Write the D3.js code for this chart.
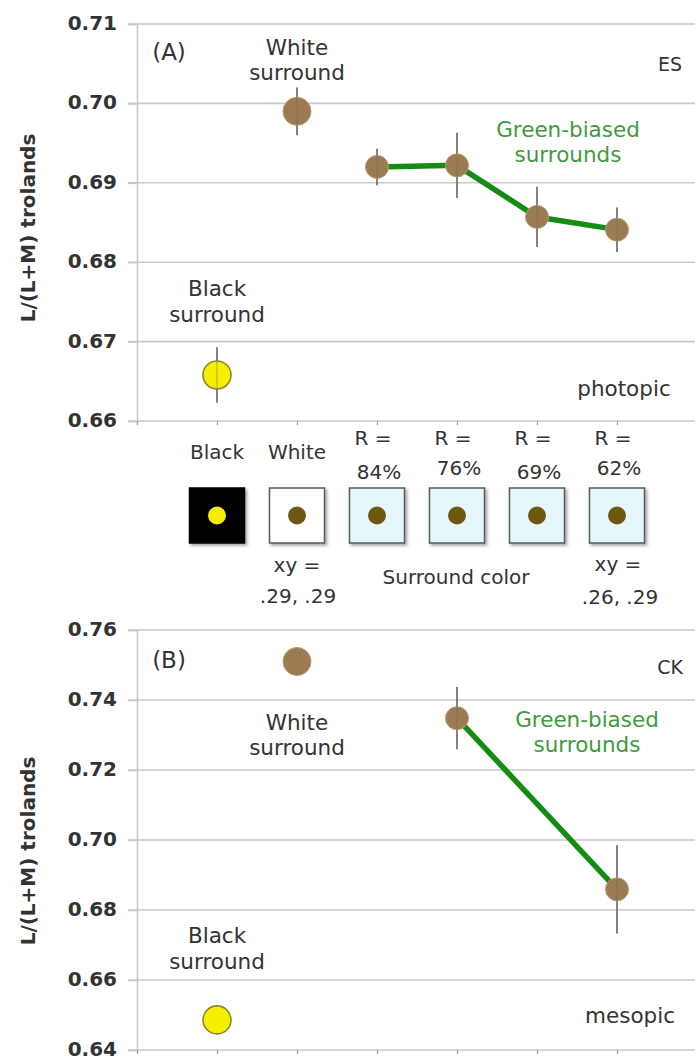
<!DOCTYPE html>
<html>
<head>
<meta charset="utf-8">
<script src="https://cdn.jsdelivr.net/npm/d3@7"></script>
<style>
  html, body { margin: 0; padding: 0; background: #fff; }
  svg { display: block; }
  text { font-family: "DejaVu Sans", "Open Sans", sans-serif; }
</style>
</head>
<body>
<svg id="chart" width="695" height="1061"></svg>
<script>
// Surround conditions along the x axis (positions 1..6)
const categories = ["Black", "White", "R = 84%", "R = 76%", "R = 69%", "R = 62%"];
const catPos = [1, 2, 3, 4, 5, 6];

// Panel A (observer ES, photopic): mean L/(L+M) and error half-widths
const esMean = [0.6658, 0.6990, 0.6920, 0.6922, 0.6857, 0.6841];
const esErr  = [0.0035, 0.0030, 0.0023, 0.0041, 0.0038, 0.0028];

// Panel B (observer CK, mesopic): only 76% and 62% green-biased surrounds measured
const ckMean = [0.6486, 0.7510, null, 0.7348, null, 0.6859];
const ckErr  = [0, 0, null, 0.0089, null, 0.0126];

// Y tick values
const esTicks = [0.66, 0.67, 0.68, 0.69, 0.70, 0.71];
const ckTicks = [0.64, 0.66, 0.68, 0.70, 0.72, 0.74, 0.76];

// Swatch key text
const swatchTop = ["Black", "White", "R =", "R =", "R =", "R ="];
const swatchPct = ["", "", "84%", "76%", "69%", "62%"];

const svg = d3.select("#chart");

const x = d3.scaleLinear().domain([0, 7]).range([137, 697]);
const gridLeft = 128, gridRight = 695;

const COL_GRID = "#c9c9c9";
const COL_BROWN = "#9c7b52";
const COL_GREEN = "#148c14";
const COL_GREEN_TXT = "#3f9a3f";
const COL_ERR = "#6e6e6e";
const COL_TXT = "#333";
const FS = 21.5;       // annotation font size
const LINE = 25;       // annotation line spacing

// shadow for swatch squares
const defs = svg.append("defs");
const f = defs.append("filter").attr("id", "shadow").attr("x", "-20%").attr("y", "-20%").attr("width", "150%").attr("height", "150%");
f.append("feDropShadow").attr("dx", 2).attr("dy", 2).attr("stdDeviation", 1.5).attr("flood-color", "#000").attr("flood-opacity", 0.35);

function drawPanel(opts) {
  const { top, bottom, ticks, mean, err, tag, subject, cond, labels } = opts;
  const y = d3.scaleLinear().domain([d3.min(ticks), d3.max(ticks)]).range([bottom, top]);
  const g = svg.append("g");

  // horizontal gridlines
  g.append("g").selectAll("line").data(ticks).join("line")
    .attr("x1", gridLeft).attr("x2", gridRight)
    .attr("y1", d => y(d)).attr("y2", d => y(d))
    .attr("stroke", COL_GRID).attr("stroke-width", 1.6);

  // y axis with bold labels
  const yAxis = d3.axisLeft(y).tickValues(ticks).tickFormat(d3.format(".2f"))
    .tickSize(9).tickPadding(11);
  const ya = g.append("g").attr("transform", `translate(${x(0)},0)`).call(yAxis);
  ya.select(".domain").attr("stroke", COL_GRID).attr("stroke-width", 1.6);
  ya.selectAll(".tick line").attr("stroke", COL_GRID).attr("stroke-width", 1.6);
  ya.selectAll(".tick text")
    .attr("font-family", "'DejaVu Sans', sans-serif")
    .attr("font-size", 20).attr("font-weight", 700).attr("fill", COL_TXT)
    .attr("dy", "0.27em");

  // x axis tick marks (no labels)
  const xAxis = d3.axisBottom(x).tickValues([0].concat(catPos)).tickSize(4).tickFormat("");
  const xa = g.append("g").attr("transform", `translate(0,${bottom})`).call(xAxis);
  xa.select(".domain").remove();
  xa.selectAll(".tick line").attr("stroke", "#999").attr("stroke-width", 1.2);

  // y axis title
  g.append("text")
    .attr("transform", `translate(28,${labels.titleY}) rotate(-90)`)
    .attr("text-anchor", "middle").attr("dominant-baseline", "central")
    .attr("font-size", 20).attr("font-weight", 700).attr("fill", COL_TXT)
    .text("L/(L+M) trolands");

  const pts = catPos.map((c, i) => ({ c, i, v: mean[i], e: err[i] })).filter(d => d.v != null);
  const green = pts.filter(d => d.i >= 2);

  // connecting line for the green-biased surrounds
  g.append("path").datum(green)
    .attr("fill", "none").attr("stroke", COL_GREEN).attr("stroke-width", 5.5)
    .attr("stroke-linejoin", "round")
    .attr("d", d3.line().x(d => x(d.c)).y(d => y(d.v)));

  // error bars
  g.append("g").selectAll("line").data(pts.filter(d => d.e > 0)).join("line")
    .attr("x1", d => x(d.c)).attr("x2", d => x(d.c))
    .attr("y1", d => y(d.v - d.e)).attr("y2", d => y(d.v + d.e))
    .attr("stroke", COL_ERR).attr("stroke-width", 1.6);

  // markers
  g.append("g").selectAll("circle").data(pts).join("circle")
    .attr("cx", d => x(d.c)).attr("cy", d => y(d.v))
    .attr("r", d => d.i < 2 ? 14 : 11.5)
    .attr("fill", d => d.i === 0 ? "#f6f000" : COL_BROWN)
    .attr("stroke", d => d.i === 0 ? "#8b8a2a" : "#b89b74")
    .attr("stroke-width", d => d.i === 0 ? 1.6 : 1);

  // error bar faintly visible through the brown markers
  g.append("g").selectAll("line").data(pts.filter(d => d.e > 0)).join("line")
    .attr("x1", d => x(d.c)).attr("x2", d => x(d.c))
    .attr("y1", d => y(d.v - d.e)).attr("y2", d => y(d.v + d.e))
    .attr("stroke", COL_ERR).attr("stroke-opacity", 0.4).attr("stroke-width", 1.4);

  // annotations
  const txt = (tx, ty, s, opt = {}) => g.append("text")
    .attr("x", tx).attr("y", ty)
    .attr("text-anchor", opt.anchor || "middle")
    .attr("dominant-baseline", "central")
    .attr("font-size", opt.size || FS)
    .attr("fill", opt.fill || COL_TXT)
    .text(s);

  txt(169, labels.tagY, tag, { size: 23 });
  txt(670, labels.subjY, subject, { size: 19 });
  txt(labels.condX, labels.condY, cond);
  txt(x(2), labels.whiteY, "White");
  txt(x(2), labels.whiteY + LINE, "surround");
  txt(x(1), labels.blackY, "Black");
  txt(x(1), labels.blackY + LINE + 1, "surround");
  txt(labels.greenX, labels.greenY, "Green-biased", { fill: COL_GREEN_TXT });
  txt(labels.greenX, labels.greenY + LINE, "surrounds", { fill: COL_GREEN_TXT });
}

drawPanel({
  top: 24, bottom: 421, ticks: esTicks, mean: esMean, err: esErr,
  tag: "(A)", subject: "ES", cond: "photopic",
  labels: { titleY: 228, tagY: 52, subjY: 64, condX: 624, condY: 388, whiteY: 47, blackY: 288, greenX: 568, greenY: 129 }
});

drawPanel({
  top: 630, bottom: 1050, ticks: ckTicks, mean: ckMean, err: ckErr,
  tag: "(B)", subject: "CK", cond: "mesopic",
  labels: { titleY: 851, tagY: 660, subjY: 667, condX: 630, condY: 1015, whiteY: 722, blackY: 935, greenX: 587, greenY: 719 }
});

// Surround colour key between the panels
const swatchFill = ["#000000", "#ffffff", "#e4f8fc", "#e4f8fc", "#e4f8fc", "#e4f8fc"];
const dotFill = ["#f8ee00", "#6d5812", "#6d5812", "#6d5812", "#6d5812", "#6d5812"];
const key = svg.append("g");
const sw = 55, swY = 488;

key.selectAll("rect").data(catPos).join("rect")
  .attr("x", d => x(d) - sw / 2).attr("y", swY)
  .attr("width", sw).attr("height", sw)
  .attr("fill", (d, i) => swatchFill[i])
  .attr("stroke", (d, i) => i === 0 ? "#000" : "#5a5a5a")
  .attr("stroke-width", 1.5)
  .attr("filter", "url(#shadow)");

key.selectAll("circle").data(catPos).join("circle")
  .attr("cx", d => x(d)).attr("cy", swY + sw / 2)
  .attr("r", 9)
  .attr("fill", (d, i) => dotFill[i]);

key.selectAll("text.top").data(catPos).join("text").attr("class", "top")
  .attr("x", (d, i) => x(d) + (i < 2 ? 0 : -4))
  .attr("y", (d, i) => i < 2 ? 452 : 438)
  .attr("text-anchor", "middle").attr("dominant-baseline", "central")
  .attr("font-size", 20).attr("fill", COL_TXT)
  .text((d, i) => swatchTop[i]);

key.selectAll("text.pct").data(catPos.slice(2)).join("text").attr("class", "pct")
  .attr("x", d => x(d) + 2)
  .attr("y", (d, i) => i % 2 === 0 ? 472 : 468)
  .attr("text-anchor", "middle").attr("dominant-baseline", "central")
  .attr("font-size", 20).attr("fill", COL_TXT)
  .text((d, i) => swatchPct[i + 2]);

const keyTxt = (tx, ty, s) => key.append("text")
  .attr("x", tx).attr("y", ty)
  .attr("text-anchor", "middle").attr("dominant-baseline", "central")
  .attr("font-size", 20).attr("fill", COL_TXT).text(s);

keyTxt(x(2), 565, "xy =");
keyTxt(x(2) + 1, 596, ".29, .29");
keyTxt(456, 577, "Surround color");
keyTxt(x(6) + 1, 564, "xy =");
keyTxt(x(6) + 3, 597, ".26, .29");
</script>
</body>
</html>
